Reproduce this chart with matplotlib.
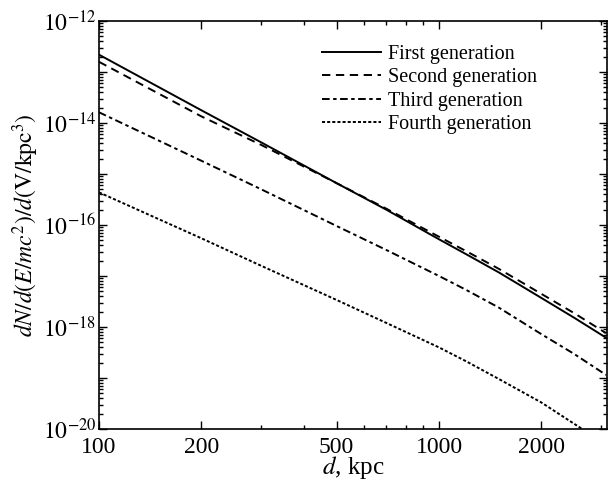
import numpy as np
import matplotlib
matplotlib.use("Agg")
import matplotlib.pyplot as plt
from matplotlib.ticker import LogLocator, FixedLocator, FuncFormatter, NullFormatter

plt.rcParams['font.family'] = ['Liberation Serif', 'DejaVu Serif']
plt.rcParams['mathtext.fontset'] = 'stix'
plt.rcParams['lines.scale_dashes'] = False

# distances in kpc and log10 of dN/d(E/mc^2)/d(V/kpc^3)
d_kpc = [100, 200, 300, 500, 700, 1000, 1200, 1500, 2000, 2500, 3100]
log_first = [-12.66, -13.75, -14.38, -15.18, -15.70, -16.28, -16.57, -16.93, -17.43, -17.82, -18.21]
log_second = [-12.80, -13.87, -14.43, -15.18, -15.68, -16.23, -16.51, -16.86, -17.35, -17.73, -18.12]
log_third = [-13.79, -14.74, -15.30, -16.02, -16.49, -17.00, -17.27, -17.62, -18.14, -18.53, -18.94]
log_fourth = [-15.36, -16.26, -16.80, -17.47, -17.92, -18.40, -18.67, -19.02, -19.48, -19.90, -20.30]

labels = ["First generation", "Second generation", "Third generation", "Fourth generation"]
x_major = [100, 200, 500, 1000, 2000]

fig = plt.figure(figsize=(6.10, 4.83), dpi=100)
ax = fig.add_axes([0.1623, 0.1118, 0.8328, 0.8447])

styles = [
    dict(linestyle='-'),
    dict(linestyle=(0, (6.0, 4.0))),
    dict(linestyle=(0, (5.5, 2.5, 2.5, 2.5))),
    dict(linestyle=(0, (2.2, 1.5))),
]
for logs, lab, st in zip([log_first, log_second, log_third, log_fourth], labels, styles):
    ax.plot(d_kpc, 10.0 ** np.array(logs), color='black', lw=1.4, label=lab, **st)

ax.set_xscale('log')
ax.set_yscale('log')
ax.set_xlim(100, 3120)
ax.set_ylim(1e-20, 1e-12)

ax.xaxis.set_major_locator(FixedLocator(x_major))
ax.xaxis.set_major_formatter(FuncFormatter(lambda v, p: f"{int(round(v))}"))
ax.xaxis.set_minor_locator(LogLocator(base=10, subs=np.arange(2, 10), numticks=20))
ax.xaxis.set_minor_formatter(NullFormatter())

ax.yaxis.set_major_locator(LogLocator(base=10, subs=(1.0,), numticks=20))
def yfmt(v, p):
    e = int(round(np.log10(v)))
    return rf"$10^{{{e}}}$" if e % 2 == 0 else ""
ax.yaxis.set_major_formatter(FuncFormatter(yfmt))
ax.yaxis.set_minor_locator(LogLocator(base=10, subs=np.arange(2, 10), numticks=20))
ax.yaxis.set_minor_formatter(NullFormatter())

ax.tick_params(which='both', direction='in', top=True, right=True, labelsize=17, width=1.0)
ax.tick_params(which='major', length=5.5)
ax.tick_params(which='minor', length=3)
ax.tick_params(axis='x', pad=6)
ax.tick_params(axis='y', pad=2)
for s in ax.spines.values():
    s.set_linewidth(1.2)

ax.set_xlabel(r"$d$, kpc", fontsize=18, labelpad=-3)
ax.set_ylabel(r"$dN/d(E/mc^2)/d(\mathrm{V/kpc}^3)$", fontsize=17, labelpad=1)

ax.legend(loc='upper left', bbox_to_anchor=(0.438, 0.942), frameon=False, fontsize=14.5,
          handlelength=2.93, handletextpad=0.35, labelspacing=0.22, borderpad=0, borderaxespad=0)

fig.savefig("out.png", dpi=100)
